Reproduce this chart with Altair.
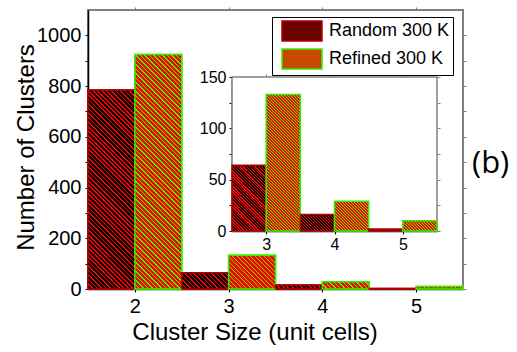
import altair as alt
import pandas as pd

# ---------------- data ----------------
cluster_sizes = [2, 3, 4, 5]
random_300k = [785, 64, 16, 2]
refined_300k = [925, 133, 29, 10]

inset_sizes = [3, 4, 5]
inset_random = [64, 16, 2]
inset_refined = [133, 29, 10]

series_names = ["Random 300 K", "Refined 300 K"]
main_x_ticks = [2, 3, 4, 5]
main_y_ticks = [0, 100, 200, 300, 400, 500, 600, 700, 800, 900, 1000]
inset_x_ticks = [3, 4, 5]
inset_y_ticks = [0, 25, 50, 75, 100, 125, 150]
panel_label = ["(b)"]

x_title = "Cluster Size (unit cells)"
y_title = "Number of Clusters"

# ---------------- layout / style ----------------
FONT = "Liberation Sans"
W, H = 375, 279
MAIN_X = [1.5, 5.5]
MAIN_Y = [0, 1100]
INSET_X = [2.5, 5.5]
INSET_Y = [0, 150]
INSET_XR = [144, 349]
INSET_YR = [221, 67]
FRAME_GRAY = "#808080"

STYLE = {
    "Random 300 K": dict(bg="#000000", line="#ff0000", frac=0.38,
                         stroke="#b00000", solid="#6a0000"),
    "Refined 300 K": dict(bg="#ff0000", line="#33ff00", frac=0.3,
                          stroke="#33ee00", solid="#c84a00"),
}


def bar_table(sizes, rnd, ref):
    rows = []
    for s, a, b in zip(sizes, rnd, ref):
        rows.append(dict(series=series_names[0], x0=s - 0.5, x1=s, v=a))
        rows.append(dict(series=series_names[1], x0=s, x1=s + 0.5, v=b))
    return pd.DataFrame(rows)


def hatch(w, h, period, bg, line, frac):
    n = max((w + h) / period, 1.0)
    stops = []
    k = 0
    while k < n:
        a = round(k / n, 5)
        b = round(min((k + frac) / n, 1.0), 5)
        c = round(min((k + 1) / n, 1.0), 5)
        stops += [
            alt.GradientStop(offset=a, color=line),
            alt.GradientStop(offset=b, color=line),
            alt.GradientStop(offset=b, color=bg),
            alt.GradientStop(offset=c, color=bg),
        ]
        k += 1
    s = (w + h) / (w * w + h * h)
    return alt.LinearGradient(gradient="linear", stops=stops,
                              x1=0, y1=1, x2=round(s * w, 5), y2=round(1 - s * h, 5))


def hatched_layers(df, xs, ys, px_x, px_y, period, sw):
    layers = []
    for i in range(len(df)):
        row = df.iloc[i]
        st = STYLE[row["series"]]
        w = (row["x1"] - row["x0"]) * px_x
        h = max(row["v"] * px_y, 0.5)
        grad = hatch(w, h, period, st["bg"], st["line"], st["frac"])
        layers.append(
            alt.Chart(df.iloc[[i]]).mark_rect(fill=grad, stroke=st["stroke"], strokeWidth=sw)
            .encode(x=alt.X("x0:Q", scale=xs, axis=None), x2="x1:Q",
                    y=alt.Y("v:Q", scale=ys, axis=None), y2=alt.datum(0))
        )
    return layers


def mirror_axes(df, xs, ys, xvals, yvals, x_off, y_off):
    return alt.Chart(df).mark_point(opacity=0).encode(
        x=alt.X("x0:Q", scale=xs, title=None,
                axis=alt.Axis(orient="top", offset=x_off, values=xvals, labels=False,
                              domain=False, tickColor=FRAME_GRAY)),
        y=alt.Y("v:Q", scale=ys, title=None,
                axis=alt.Axis(orient="right", offset=y_off, values=yvals, labels=False,
                              domain=False, tickColor=FRAME_GRAY)),
    )


main_df = bar_table(cluster_sizes, random_300k, refined_300k)
inset_df = bar_table(inset_sizes, inset_random, inset_refined)

# ---------------- main panel ----------------
mx = alt.Scale(domain=MAIN_X, range=[0, W], nice=False, zero=False)
my = alt.Scale(domain=MAIN_Y, range=[H, 0], nice=False, zero=True)

base = alt.Chart(main_df).mark_rect(strokeWidth=1.5).encode(
    x=alt.X("x0:Q", scale=mx, title=x_title,
            axis=alt.Axis(orient="bottom", values=main_x_ticks, format="d",
                          titleX=166.5, titleY=50,
                          titleBaseline="alphabetic", labelPadding=4)),
    x2="x1:Q",
    y=alt.Y("v:Q", scale=my, title=y_title,
            axis=alt.Axis(orient="left", values=main_y_ticks, format="d",
                          titleX=-55, titleY=137,
                          titleBaseline="alphabetic", labelPadding=4,
                          labelExpr="datum.value % 200 == 0 ? datum.label : ''")),
    y2=alt.datum(0),
    color=alt.Color("series:N",
                    scale=alt.Scale(domain=series_names,
                                    range=[STYLE[s]["solid"] for s in series_names]),
                    legend=alt.Legend(title=None)),
    stroke=alt.Stroke("series:N",
                      scale=alt.Scale(domain=series_names,
                                      range=[STYLE[s]["stroke"] for s in series_names]),
                      legend=alt.Legend(title=None)),
)

main_mirror = mirror_axes(main_df, mx, my, main_x_ticks, main_y_ticks, 0, 0)

main_bars = hatched_layers(main_df, mx, my, W / (MAIN_X[1] - MAIN_X[0]),
                           H / (MAIN_Y[1] - MAIN_Y[0]), 4.5, 1.5)

label = alt.Chart(pd.DataFrame({"t": panel_label})).mark_text(
    font="Open Sans", fontSize=31, align="left", baseline="alphabetic", color="black"
).encode(x=alt.value(384), y=alt.value(163), text="t:N")

# ---------------- inset panel ----------------
ix = alt.Scale(domain=INSET_X, range=INSET_XR, nice=False, zero=False)
iy = alt.Scale(domain=INSET_Y, range=INSET_YR, nice=False, zero=True)

frame = alt.Chart(pd.DataFrame({"a": [0]})).mark_rect(
    fill="white", stroke=FRAME_GRAY, strokeWidth=1.5
).encode(
    x=alt.X("lo:Q", scale=ix, title=None,
            axis=alt.Axis(orient="bottom", offset=-(H - INSET_YR[0]), values=inset_x_ticks,
                          format="d", labelFontSize=16, labelPadding=2)),
    x2="hi:Q",
    y=alt.Y("b:Q", scale=iy, title=None,
            axis=alt.Axis(orient="left", offset=-INSET_XR[0], values=inset_y_ticks,
                          format="d", labelFontSize=16, labelPadding=3,
                          labelExpr="datum.value % 50 == 0 ? datum.label : ''")),
    y2="t:Q",
).transform_calculate(lo=str(INSET_X[0]), hi=str(INSET_X[1]),
                      b=str(INSET_Y[0]), t=str(INSET_Y[1]))

inset_mirror = mirror_axes(inset_df, ix, iy, inset_x_ticks, inset_y_ticks,
                           -INSET_YR[1], -(W - INSET_XR[1]))

inset_bars = hatched_layers(inset_df, ix, iy,
                            (INSET_XR[1] - INSET_XR[0]) / (INSET_X[1] - INSET_X[0]),
                            (INSET_YR[0] - INSET_YR[1]) / (INSET_Y[1] - INSET_Y[0]), 3.0, 1.5)

chart = (
    alt.layer(base, main_mirror, *main_bars, label, frame, inset_mirror, *inset_bars)
    .resolve_scale(x="independent", y="independent")
    .resolve_axis(x="independent", y="independent")
    .properties(width=W, height=H, autosize=alt.AutoSizeParams(type="none"),
                padding={"left": 88, "top": 10, "right": 54, "bottom": 63},
                background="white")
    .configure_view(stroke=FRAME_GRAY, strokeWidth=2)
    .configure_axis(grid=False, domainColor="black", domainWidth=1.5, tickColor="black",
                    tickWidth=1, tickSize=3, labelFont=FONT, labelFontSize=20,
                    labelColor="black", titleFont=FONT, titleFontSize=24,
                    titleFontWeight="normal", titleColor="black")
    .configure_legend(orient="none", legendX=184, legendY=7, padding=3,
                      strokeColor="black", fillColor="white",
                      symbolType="M-2,-1L2,-1L2,1L-2,1Z", symbolSize=400,
                      symbolStrokeWidth=1.5, symbolOffset=16, labelOffset=16,
                      labelFont=FONT, labelFontSize=18, labelColor="black",
                      rowPadding=2)
)

chart.save("out.html", embed_options={"renderer": "svg", "actions": False})
